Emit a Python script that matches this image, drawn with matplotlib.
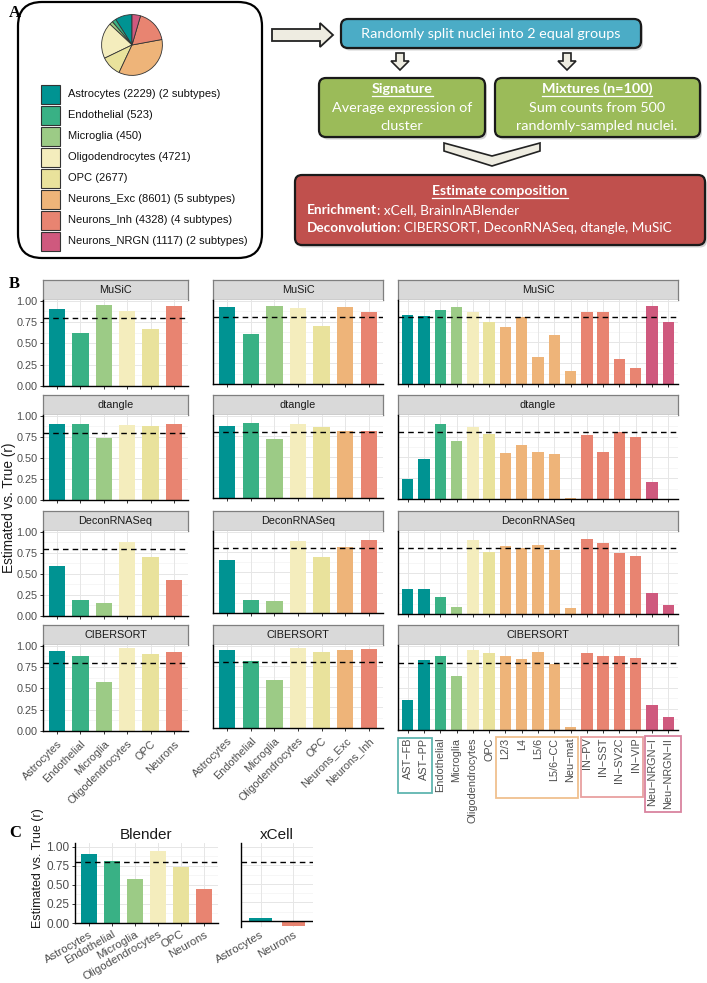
import numpy as np
import matplotlib
matplotlib.use('Agg')
import matplotlib.pyplot as plt
from matplotlib.patches import FancyBboxPatch, Rectangle, Polygon

W, H = 707, 983
plt.rcParams['font.family'] = ['Liberation Sans', 'DejaVu Sans']

# ---- data ----
cell_types = ['Astrocytes', 'Endothelial', 'Microglia', 'Oligodendrocytes', 'OPC',
              'Neurons_Exc', 'Neurons_Inh', 'Neurons_NRGN']
cell_counts = [2229, 523, 450, 4721, 2677, 8601, 4328, 1117]
n_subtypes = [2, 0, 0, 0, 0, 5, 4, 2]
cell_colors = ['#009392', '#39b185', '#9ccb86', '#f4edbd', '#e9e29c',
               '#eeb479', '#e88471', '#cf597e']

methods = ['MuSiC', 'dtangle', 'DeconRNASeq', 'CIBERSORT']

major_cells = ['Astrocytes', 'Endothelial', 'Microglia', 'Oligodendrocytes', 'OPC', 'Neurons']
major_colors = ['#009392', '#39b185', '#9ccb86', '#f4edbd', '#e9e29c', '#e88471']
music_major = [0.90, 0.62, 0.95, 0.88, 0.67, 0.94]
dtangle_major = [0.90, 0.90, 0.74, 0.89, 0.88, 0.90]
decon_major = [0.60, 0.19, 0.16, 0.88, 0.70, 0.43]
cibersort_major = [0.94, 0.88, 0.57, 0.97, 0.91, 0.93]

split_cells = ['Astrocytes', 'Endothelial', 'Microglia', 'Oligodendrocytes', 'OPC',
               'Neurons_Exc', 'Neurons_Inh']
split_colors = ['#009392', '#39b185', '#9ccb86', '#f4edbd', '#e9e29c', '#eeb479', '#e88471']
music_split = [0.92, 0.60, 0.94, 0.91, 0.70, 0.92, 0.86]
dtangle_split = [0.88, 0.91, 0.72, 0.90, 0.87, 0.82, 0.82]
decon_split = [0.65, 0.16, 0.15, 0.89, 0.69, 0.81, 0.90]
cibersort_split = [0.95, 0.82, 0.59, 0.97, 0.93, 0.95, 0.96]

sub_cells = ['AST\u2212FB', 'AST\u2212PP', 'Endothelial', 'Microglia', 'Oligodendrocytes', 'OPC',
             'L2/3', 'L4', 'L5/6', 'L5/6\u2212CC', 'Neu\u2212mat',
             'IN\u2212PV', 'IN\u2212SST', 'IN\u2212SV2C', 'IN\u2212VIP',
             'Neu\u2212NRGN\u2212I', 'Neu\u2212NRGN\u2212II']
sub_colors = ['#009392', '#009392', '#39b185', '#9ccb86', '#f4edbd', '#e9e29c',
              '#eeb479', '#eeb479', '#eeb479', '#eeb479', '#eeb479',
              '#e88471', '#e88471', '#e88471', '#e88471', '#cf597e', '#cf597e']
music_sub = [0.83, 0.82, 0.89, 0.92, 0.86, 0.74, 0.68, 0.81, 0.32, 0.59, 0.16,
             0.86, 0.87, 0.30, 0.19, 0.94, 0.74]
dtangle_sub = [0.24, 0.48, 0.90, 0.70, 0.87, 0.78, 0.55, 0.65, 0.57, 0.54, 0.01,
               0.77, 0.56, 0.80, 0.75, 0.20, 0.0]
decon_sub = [0.30, 0.30, 0.21, 0.09, 0.90, 0.75, 0.83, 0.80, 0.84, 0.78, 0.07,
             0.91, 0.86, 0.74, 0.70, 0.25, 0.11]
cibersort_sub = [0.36, 0.83, 0.88, 0.64, 0.95, 0.91, 0.88, 0.84, 0.93, 0.79, 0.03,
                 0.92, 0.88, 0.88, 0.85, 0.30, 0.15]

blender_cells = ['Astrocytes', 'Endothelial', 'Microglia', 'Oligodendrocytes', 'OPC', 'Neurons']
blender_vals = [0.90, 0.82, 0.58, 0.95, 0.74, 0.45]
xcell_cells = ['Astrocytes', 'Neurons']
xcell_colors = ['#009392', '#e88471']
xcell_vals = [0.04, -0.06]


def box(x0, y0, x1, y1):
    return [x0 / W, 1 - y1 / H, (x1 - x0) / W, (y1 - y0) / H]


fig = plt.figure(figsize=(W / 100, H / 100), dpi=100)
bg = fig.add_axes([0, 0, 1, 1])
bg.set_xlim(0, W)
bg.set_ylim(H, 0)
bg.axis('off')
renderer = fig.canvas.get_renderer()

# ---- panel A ----
serif = 'Liberation Serif'
for lab, (x, y) in zip('ABC', [(9, 13), (9, 284), (9, 833)]):
    bg.text(x, y, lab, fontsize=12, fontweight='bold', family=serif, ha='left', va='center')

bg.add_patch(FancyBboxPatch((18, 2), 244, 256, boxstyle='round,pad=0,rounding_size=24',
                            fc='white', ec='black', lw=1.6))
pie_ax = fig.add_axes(box(94, 7, 170, 83))
pie_ax.pie(cell_counts, colors=cell_colors, startangle=90, counterclock=True,
           wedgeprops=dict(edgecolor='#333333', linewidth=0.6))
pie_ax.set_aspect('equal')

for i, (name, n, sub) in enumerate(zip(cell_types, cell_counts, n_subtypes)):
    yc = 94 + i * 21
    bg.add_patch(Rectangle((41, yc - 9.5), 19, 19, fc=cell_colors[i], ec='#333333', lw=0.8))
    lab = f'{name} ({n})' + (f' ({sub} subtypes)' if sub else '')
    bg.text(68, yc, lab, fontsize=8, va='center', ha='left', color='#111111')

# ---- flowchart ----
ff = 'Lato'
beige = '#eeece1'
bg.add_patch(Polygon([(272, 29), (320, 29), (320, 23), (333, 35), (320, 47), (320, 41), (272, 41)],
                     closed=True, fc=beige, ec='#222222', lw=1.3))
for cx in [400, 567]:
    bg.add_patch(Polygon([(cx - 4, 53), (cx + 4, 53), (cx + 4, 61), (cx + 9, 61), (cx, 70),
                          (cx - 9, 61), (cx - 4, 61)], closed=True, fc=beige, ec='#222222', lw=1.2))
bg.add_patch(Polygon([(444, 143), (492, 156), (540, 143), (540, 151), (492, 166), (444, 151)],
                     closed=True, fc=beige, ec='#222222', lw=1.2))


def rbox(x0, y0, x1, y1, fc):
    bg.add_patch(FancyBboxPatch((x0 + 2, y0 + 2.5), x1 - x0, y1 - y0,
                                boxstyle='round,pad=0,rounding_size=7',
                                fc='#9a9a9a', ec='none', alpha=0.45))
    bg.add_patch(FancyBboxPatch((x0, y0), x1 - x0, y1 - y0,
                                boxstyle='round,pad=0,rounding_size=7',
                                fc=fc, ec='#1a1a1a', lw=1.6))


rbox(341, 19, 641, 48, '#4bacc6')
rbox(319, 78, 485, 137, '#9bbb59')
rbox(495, 78, 700, 137, '#9bbb59')
rbox(295, 175, 705, 245, '#c0504d')

fs = 10.4
fs_red = 9.8
bg.text(491, 34, 'Randomly split nuclei into 2 equal groups', color='white',
        fontsize=fs, family=ff, ha='center', va='center')


def underlined(x, y, s, size):
    t = bg.text(x, y, s, color='white', fontsize=size, family=ff, fontweight='bold',
                ha='center', va='center')
    bb = t.get_window_extent(renderer)
    bg.plot([bb.x0, bb.x1], [H - bb.y0 + 0.5] * 2, color='white', lw=0.9)


underlined(402, 89, 'Signature', fs)
bg.text(402, 108, 'Average expression of', color='white', fontsize=fs, family=ff,
        ha='center', va='center')
bg.text(402, 126, 'cluster', color='white', fontsize=fs, family=ff, ha='center', va='center')
underlined(597, 89, 'Mixtures (n=100)', fs)
bg.text(597, 108, 'Sum counts from 500', color='white', fontsize=fs, family=ff,
        ha='center', va='center')
bg.text(597, 126, 'randomly-sampled nuclei.', color='white', fontsize=fs, family=ff,
        ha='center', va='center')
underlined(500, 191, 'Estimate composition', fs_red + 0.3)
for yy, bold, rest in [(210, 'Enrichment', ': xCell, BrainInABlender'),
                       (228, 'Deconvolution', ': CIBERSORT, DeconRNASeq, dtangle, MuSiC')]:
    t = bg.text(307, yy, bold, color='white', fontsize=fs_red, family=ff, fontweight='bold',
                ha='left', va='center')
    bb = t.get_window_extent(renderer)
    bg.text(bb.x1, yy, rest, color='white', fontsize=fs_red, family=ff, ha='left', va='center')

# ---- panel B ----
def strip(x0, x1, top, title):
    s = fig.add_axes(box(x0, top - 20, x1, top))
    s.set_facecolor('#d9d9d9')
    s.set_xticks([])
    s.set_yticks([])
    for sp in s.spines.values():
        sp.set_color('#7f7f7f')
        sp.set_linewidth(0.9)
    s.text(0.5, 0.5, title, ha='center', va='center', fontsize=7.8, color='#1a1a1a',
           transform=s.transAxes)


def bar_panel(rect, values, colors, labels=None, ylabels=False, rot=45, ylim=(0, 1.01),
              lsize=7.8):
    ax = fig.add_axes(box(*rect))
    n = len(values)
    pos = np.arange(n)
    ax.set_xlim(-0.6, n - 0.4)
    ax.set_ylim(*ylim)
    for v in [0.125, 0.375, 0.625, 0.875]:
        ax.axhline(v, color='#f3f3f3', lw=0.5, zorder=0)
    for v in [0, 0.25, 0.5, 0.75, 1.0]:
        ax.axhline(v, color='#e6e6e6', lw=0.7, zorder=0)
    for p in pos:
        ax.axvline(p, color='#e6e6e6', lw=0.7, zorder=0)
    ax.bar(pos, values, 0.7, color=colors, zorder=2)
    ax.axhline(0.8, color='black', lw=1.0, linestyle=(0, (4, 3)), zorder=3)
    for sp in ['top', 'right']:
        ax.spines[sp].set_visible(False)
    for sp in ['left', 'bottom']:
        ax.spines[sp].set_color('black')
        ax.spines[sp].set_linewidth(1.0)
    ax.set_xticks(pos)
    ax.set_yticks([0, 0.25, 0.5, 0.75, 1.0])
    ax.tick_params(length=2.5, width=0.7, color='#333333', labelcolor='#4d4d4d',
                   labelsize=lsize, pad=1.5)
    if ylabels:
        ax.set_yticklabels(['0.00', '0.25', '0.50', '0.75', '1.00'])
    else:
        ax.set_yticklabels([])
        ax.tick_params(axis='y', length=0)
    if labels is None:
        ax.set_xticklabels([])
    elif rot == 90:
        ax.set_xticklabels(labels, rotation=90, ha='center', va='top')
        ax.tick_params(axis='x', pad=3)
    else:
        ax.set_xticklabels(labels, rotation=rot, ha='right', rotation_mode='anchor')
        ax.tick_params(axis='x', pad=3)
    return ax


tops = [300, 415, 531, 645]
cols = [
    (43, 188, [386, 500, 616, 731], [music_major, dtangle_major, decon_major, cibersort_major],
     major_colors, major_cells, True, 45),
    (213, 383, [384, 498, 613, 728], [music_split, dtangle_split, decon_split, cibersort_split],
     split_colors, split_cells, False, 45),
    (398, 678, [384, 499, 614, 730], [music_sub, dtangle_sub, decon_sub, cibersort_sub],
     sub_colors, sub_cells, False, 90),
]
for x0, x1, bottoms, series, colors, labels, ylab, rot in cols:
    for r, (m, vals) in enumerate(zip(methods, series)):
        strip(x0, x1, tops[r], m)
        bar_panel((x0, tops[r], x1, bottoms[r]), vals, colors,
                  labels=labels if r == 3 else None, ylabels=ylab, rot=rot)

fig.text(9 / W, 1 - 508 / H, 'Estimated vs. True (r)', rotation=90, ha='center', va='center',
         fontsize=9.8, color='#1a1a1a')

for (x0, y0, x1, y1, c) in [(398, 738, 432, 793, '#5fb5b0'), (496, 737, 578, 798, '#f0c08f'),
                            (581, 737, 643, 797, '#e8a0a0'), (645, 736, 681, 812, '#d9839f')]:
    bg.add_patch(Rectangle((x0, y0), x1 - x0, y1 - y0, fc='none', ec=c, lw=1.3))

# ---- panel C ----
axb = bar_panel((75, 843, 218, 923), blender_vals, major_colors, labels=blender_cells,
                ylabels=True, rot=30, ylim=(0, 1.05), lsize=8.5)
axb.tick_params(axis='x', labelsize=8.2, pad=2)
axb.set_title('Blender', fontsize=11, color='#1a1a1a', pad=3)
axx = bar_panel((241, 843, 313, 927), xcell_vals, xcell_colors, labels=xcell_cells,
                ylabels=False, rot=30, ylim=(-0.08, 1.05), lsize=8.2)
axx.spines['bottom'].set_visible(False)
axx.axhline(0, color='black', lw=1.0, zorder=4)
axx.tick_params(axis='x', length=0, pad=2)
axx.set_title('xCell', fontsize=11, color='#1a1a1a', pad=3)
fig.text(38 / W, 1 - 868 / H, 'Estimated vs. True (r)', rotation=90, ha='center', va='center',
         fontsize=9, color='#1a1a1a')

fig.savefig('out.png', dpi=100)
